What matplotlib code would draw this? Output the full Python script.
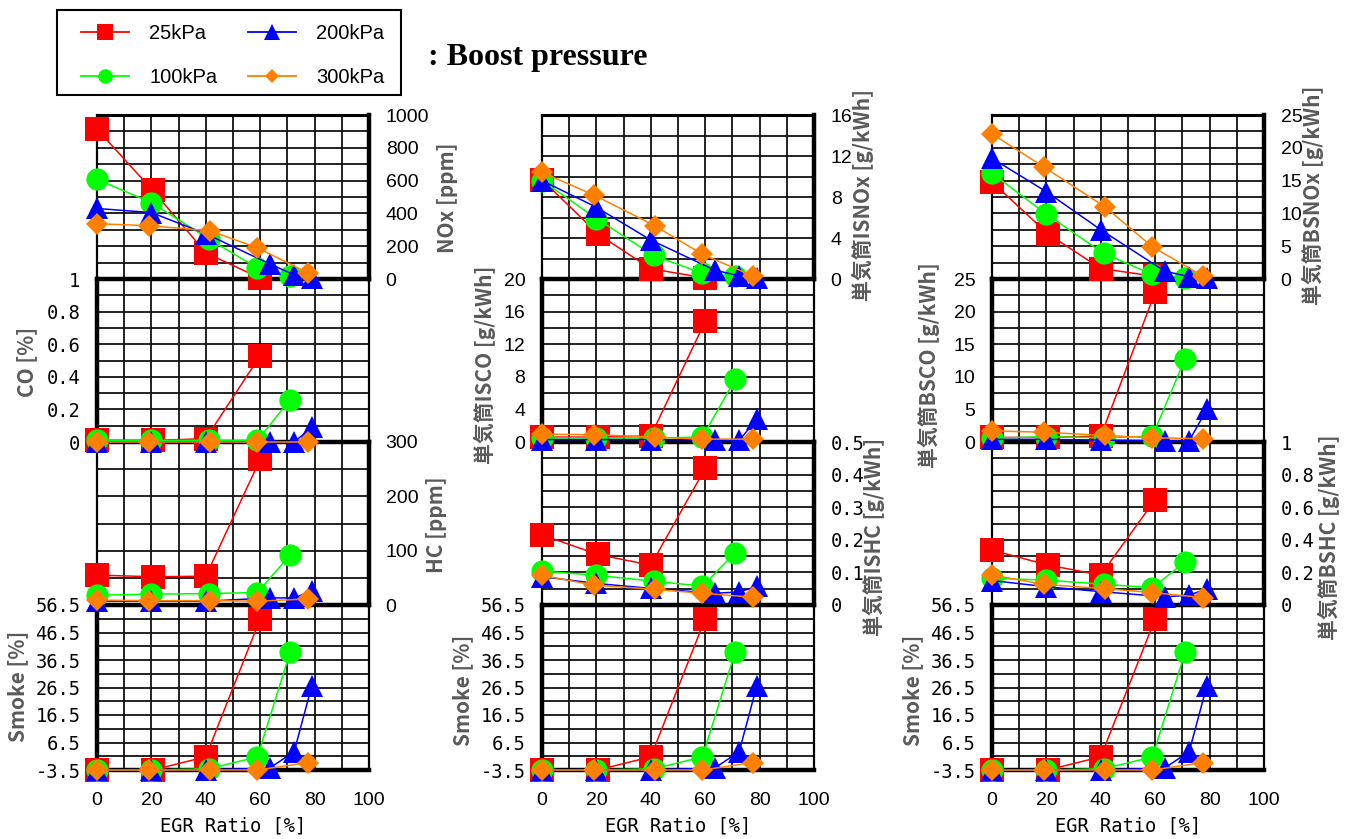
import matplotlib
matplotlib.use("Agg")
import matplotlib.pyplot as plt
from matplotlib.lines import Line2D
from matplotlib.patches import Rectangle
from matplotlib.ticker import MultipleLocator, FixedLocator, FuncFormatter
import numpy as np

# ---------------- data ----------------
SERIES = ["25kPa", "100kPa", "200kPa", "300kPa"]
COLORS = ["#ff0000", "#00ff00", "#0000ff", "#ff8000"]
MARKERS = ["s", "o", "^", "D"]

EGR_25 = [0, 20.5, 40, 60]
EGR_100 = [0, 20, 41, 59, 71]
EGR_200 = [0, 20, 40, 63.5, 72.5, 79]
EGR_300 = [0, 19, 41.5, 59, 77.5]

# column 1 : concentrations
NOX_PPM = [[914, 540, 160, 5], [607, 466, 245, 67, 18],
           [430, 405, 276, 92, 25, 6], [337, 325, 294, 190, 37]]
CO_PCT = [[0.01, 0.01, 0.02, 0.53], [0.01, 0.01, 0.01, 0.01, 0.26],
          [0.0, 0.0, 0.0, 0.0, 0.0, 0.09], [0.0, 0.0, 0.0, 0.0, 0.0]]
HC_PPM = [[55, 52, 53, 268], [18, 20, 21, 23, 92],
          [7, 7, 7, 13, 13, 26], [9, 8, 8, 7, 11]]
SMOKE = [[-3.5, -3.5, 1.3, 51.5], [-3.5, -3.5, -3.1, 1.3, 39.4],
         [-3.5, -3.5, -3.5, -2.8, 3.2, 27.2], [-3.5, -3.5, -3.5, -3.5, -0.8]]

# column 2 : indicated specific emissions
ISNOX = [[9.7, 4.4, 1.0, 0.1], [9.6, 5.9, 2.3, 0.55, 0.26],
         [9.6, 7.0, 3.8, 0.87, 0.3, 0.1], [10.4, 8.2, 5.2, 2.4, 0.3]]
ISCO = [[0.6, 0.6, 0.75, 14.8], [0.5, 0.5, 0.5, 0.6, 7.7],
        [0.3, 0.3, 0.3, 0.25, 0.2, 2.8], [0.95, 0.9, 0.6, 0.35, 0.35]]
ISHC = [[0.215, 0.155, 0.122, 0.419], [0.104, 0.091, 0.073, 0.058, 0.16],
        [0.087, 0.066, 0.051, 0.036, 0.04, 0.057], [0.091, 0.061, 0.048, 0.036, 0.024]]

# column 3 : brake specific emissions
BSNOX = [[14.8, 6.9, 1.6, 0.4], [16.1, 9.9, 3.9, 0.7, 0.2],
         [18.4, 13.3, 7.5, 1.2, 0.35, 0.1], [22.1, 17.1, 11.0, 4.9, 0.45]]
BSCO = [[0.7, 0.7, 0.9, 23.0], [0.6, 0.8, 0.65, 0.9, 12.8],
        [0.4, 0.4, 0.3, 0.2, 0.2, 5.0], [1.7, 1.5, 1.0, 0.65, 0.5]]
BSHC = [[0.337, 0.245, 0.184, 0.647], [0.163, 0.153, 0.127, 0.106, 0.265],
        [0.15, 0.112, 0.082, 0.05, 0.06, 0.1], [0.184, 0.127, 0.1, 0.076, 0.046]]

X_TICKS = [0, 20, 40, 60, 80, 100]
X_LABEL = "EGR Ratio [%]"
TITLE = ": Boost pressure"

EGR = [EGR_25, EGR_100, EGR_200, EGR_300]

# panel definitions: (ylabel, side, ylim, major step, grid step, data, mono font, label pos px)
COLUMNS = [
    [("NOx [ppm]", "right", (0, 1000), 200, 100, NOX_PPM, False, (447, 198)),
     ("CO [%]", "left", (0, 1), 0.2, 0.1, CO_PCT, True, (27, 362)),
     ("HC [ppm]", "right", (0, 300), 100, 50, HC_PPM, False, (437, 525)),
     ("Smoke [%]", "left", (-3.5, 56.5), 10, 5, SMOKE, True, (18, 686))],
    [("単気筒ISNOx [g/kWh]", "right", (0, 16), 4, 2, ISNOX, False, (863, 195)),
     ("単気筒ISCO [g/kWh]", "left", (0, 20), 4, 2, ISCO, False, (485, 365)),
     ("単気筒ISHC [g/kWh]", "right", (0, 0.5), 0.1, 0.05, ISHC, True, (874, 537)),
     ("Smoke [%]", "left", (-3.5, 56.5), 10, 5, SMOKE, True, (463, 690))],
    [("単気筒BSNOx [g/kWh]", "right", (0, 25), 5, 2.5, BSNOX, False, (1313, 195)),
     ("単気筒BSCO [g/kWh]", "left", (0, 25), 5, 2.5, BSCO, False, (929, 365)),
     ("単気筒BSHC [g/kWh]", "right", (0, 1), 0.2, 0.1, BSHC, True, (1329, 537)),
     ("Smoke [%]", "left", (-3.5, 56.5), 10, 5, SMOKE, True, (913, 690))],
]

# ---------------- layout ----------------
W, H = 1357, 839
fig = plt.figure(figsize=(W / 100, H / 100), dpi=100)

COL_LEFT = [97, 542, 992]
COL_W = 272
ROW_EDGES = [115, 279, 442, 605, 770]

MS = {"s": 17, "o": 16, "^": 16, "D": 11.3}
SANS = "Liberation Sans"
MONO = "DejaVu Sans Mono"
JP = ["Noto Sans CJK JP", "DejaVu Sans"]


def fmt(v, pos):
    return "%g" % round(v, 4)


for c, col in enumerate(COLUMNS):
    for r, (lab, side, ylim, step, gstep, data, mono, lpos) in enumerate(col):
        top, bot = ROW_EDGES[r], ROW_EDGES[r + 1]
        ax = fig.add_axes([COL_LEFT[c] / W, 1 - bot / H, COL_W / W, (bot - top) / H])
        ax.set_zorder(10 - r)
        ax.patch.set_alpha(0)
        ax.set_xlim(0, 100)
        ax.set_ylim(*ylim)
        ax.xaxis.set_major_locator(FixedLocator(X_TICKS))
        ax.xaxis.set_minor_locator(MultipleLocator(10))
        yt = np.arange(ylim[0], ylim[1] + step * 0.01, step)
        yg = np.arange(ylim[0], ylim[1] + gstep * 0.01, gstep)
        ax.yaxis.set_major_locator(FixedLocator(yt))
        ax.yaxis.set_minor_locator(FixedLocator(yg))
        ax.yaxis.set_major_formatter(FuncFormatter(fmt))
        ax.grid(True, which="both", color="#111111", lw=1.3)
        ax.set_axisbelow(True)
        ax.tick_params(which="both", length=0)
        ax.tick_params(axis="y", pad=12, labelsize=14 if not mono else 13.5)
        ax.tick_params(axis="x", pad=16, labelsize=14)
        if side == "right":
            ax.yaxis.tick_right()
        else:
            ax.yaxis.tick_left()
        for t in ax.get_yticklabels():
            t.set_fontfamily(MONO if mono else SANS)
        if r < 3:
            ax.tick_params(axis="x", labelbottom=False)
        else:
            for t in ax.get_xticklabels():
                t.set_fontfamily(SANS)
            ax.set_xlabel(X_LABEL, fontfamily=MONO, fontsize=13.5, labelpad=5)
        for sp in ax.spines.values():
            sp.set_linewidth(1.6)
            sp.set_color("black")
        ax.spines[side].set_linewidth(3.2)
        ax.spines["top"].set_linewidth(2.2 if r == 0 else 3.2)
        if r == 3:
            ax.spines["bottom"].set_linewidth(3.2)

        for i in range(4):
            ax.plot(EGR[i], data[i], color=COLORS[i], lw=1.1, marker=MARKERS[i],
                    ms=MS[MARKERS[i]], mew=0, clip_on=False, zorder=3 + i)

        fig.text(lpos[0] / W, 1 - lpos[1] / H, lab, rotation=90, ha="center",
                 va="center", fontsize=15, color="#5a5a5a", family=JP,
                 fontweight="bold")

# legend
LEG_MS = {"s": 11, "o": 10.5, "^": 11, "D": 7.5}
handles = [Line2D([], [], color=COLORS[i], lw=1.3, marker=MARKERS[i],
                  ms=LEG_MS[MARKERS[i]], mew=0) for i in range(4)]
leg = fig.legend(handles, SERIES, ncol=2, loc="upper left",
                 bbox_to_anchor=(81 / W, 1 - 24 / H), frameon=False,
                 prop={"family": SANS, "size": 14.5}, handlelength=2.4,
                 handletextpad=1.0, columnspacing=1.5, labelspacing=1.25,
                 borderpad=0, borderaxespad=0)
fig.patches.append(Rectangle((57 / W, 1 - 95 / H), (401 - 57) / W, 85 / H,
                             transform=fig.transFigure, fill=False,
                             edgecolor="black", lw=1.5))

fig.text(428 / W, 1 - 57 / H, TITLE, ha="left", va="center", fontsize=23,
         fontweight="bold", family="Liberation Serif")

fig.savefig("out.png", dpi=100)
